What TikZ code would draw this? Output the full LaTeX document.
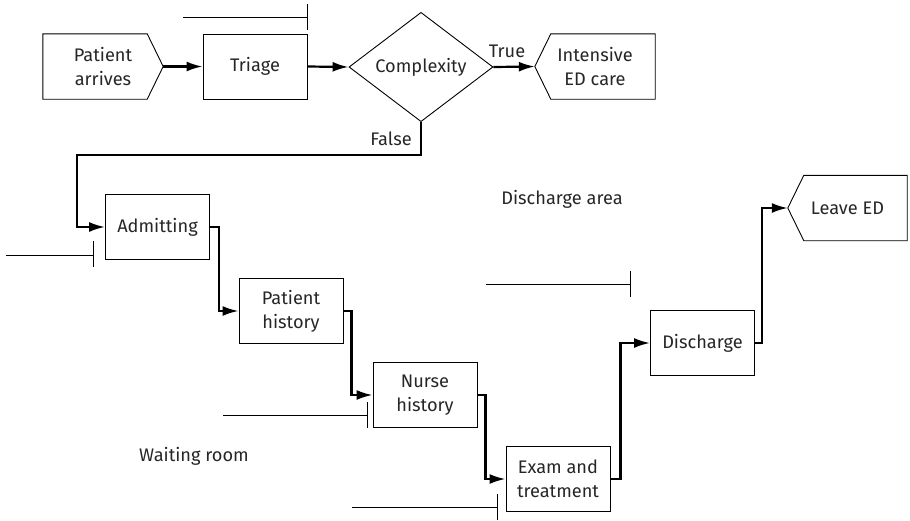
\documentclass[tikz,border=0pt]{standalone}
\usepackage{fontspec}
\setmainfont{Fira Sans}
\usetikzlibrary{arrows.meta,shapes.geometric}
\begin{document}
\begin{tikzpicture}[x=1pt,y=-1pt,
  every node/.style={font=\fontsize{18.2}{24}\selectfont, text=black!85},
  procbox/.style={draw, line width=0.9pt, minimum width=104pt, minimum height=65pt, inner sep=0pt, align=center},
  flagbox/.style={minimum width=120pt, minimum height=65pt, inner sep=0pt, align=center},
  decbox/.style={draw, diamond, line width=0.9pt, minimum width=144pt, minimum height=106pt, inner sep=0pt},
  flow/.style={line width=2.2pt, -{Latex[length=16pt,width=10pt]}},
  wall/.style={line width=0.9pt},
  lbl/.style={inner sep=0pt}]
\useasboundingbox (0,0) rectangle (910,520);

% nodes
\node[flagbox] (pa) at (103,66.5) {Patient\\arrives};
\node[procbox] (tr) at (255,66.5) {Triage};
\node[decbox] (cx) at (421,67) {Complexity};
\node[flagbox] (ie) at (595,66.5) {Intensive\\ED care};
\node[procbox] (ad) at (157.5,227) {Admitting};
\node[procbox] (ph) at (291,311) {Patient\\history};
\node[procbox] (nh) at (425,395) {Nurse\\history};
\node[procbox] (ex) at (558,479) {Exam and\\treatment};
\node[procbox] (dc) at (702.5,343) {Discharge};
\node[flagbox, minimum width=119pt] (le) at (847.5,208) {Leave ED};

% flag outlines
\draw[line width=0.9pt] (pa.north west) -- ([xshift=-16pt]pa.north east) -- (pa.east)
  -- ([xshift=-16pt]pa.south east) -- (pa.south west) -- cycle;
\draw[line width=0.9pt] (ie.north east) -- ([xshift=16pt]ie.north west) -- (ie.west)
  -- ([xshift=16pt]ie.south west) -- (ie.south east) -- cycle;
\draw[line width=0.9pt] (le.north east) -- ([xshift=16pt]le.north west) -- (le.west)
  -- ([xshift=16pt]le.south west) -- (le.south east) -- cycle;

% labels
\node[lbl] (tl) at (507,51) {True};
\node[lbl] (fl) at (391,139) {False};
\node[lbl] (da) at (562,199) {Discharge area};
\node[lbl] (wr) at (194,456) {Waiting room};

% flows
\draw[flow] (pa.east) -- (tr.west);
\draw[flow] (tr.east) -- (cx.west);
\draw[flow] (cx.east) -- (ie.west);
\coordinate (f1) at (77,155);
\draw[flow] (cx.south) |- (f1) |- (ad.west);
\draw[flow] (ad.east) -- ++(9,0) |- (ph.west);
\draw[flow] (ph.east) -- ++(8,0) |- (nh.west);
\draw[flow] (nh.east) -- ++(8,0) |- (ex.west);
\draw[flow] (ex.east) -- ++(10,0) |- (dc.west);
\draw[flow] (dc.east) -- ++(7,0) |- (le.west);

% walls
\coordinate (w1a) at (183,17); \coordinate (w1b) at (307,17);
\draw[wall] (w1a) -- (w1b) (307,4) -- (307,30);
\coordinate (w2a) at (6,255); \coordinate (w2b) at (93,255);
\draw[wall] (w2a) -- (w2b) (93,241) -- (93,267);
\coordinate (w3a) at (486,284); \coordinate (w3b) at (630,284);
\draw[wall] (w3a) -- (w3b) (630,271) -- (630,297);
\coordinate (w4a) at (223,415); \coordinate (w4b) at (367,415);
\draw[wall] (w4a) -- (w4b) (367,402) -- (367,428);
\coordinate (w5a) at (352,507); \coordinate (w5b) at (497,507);
\draw[wall] (w5a) -- (w5b) (497,494) -- (497,520);
\end{tikzpicture}
\end{document}
